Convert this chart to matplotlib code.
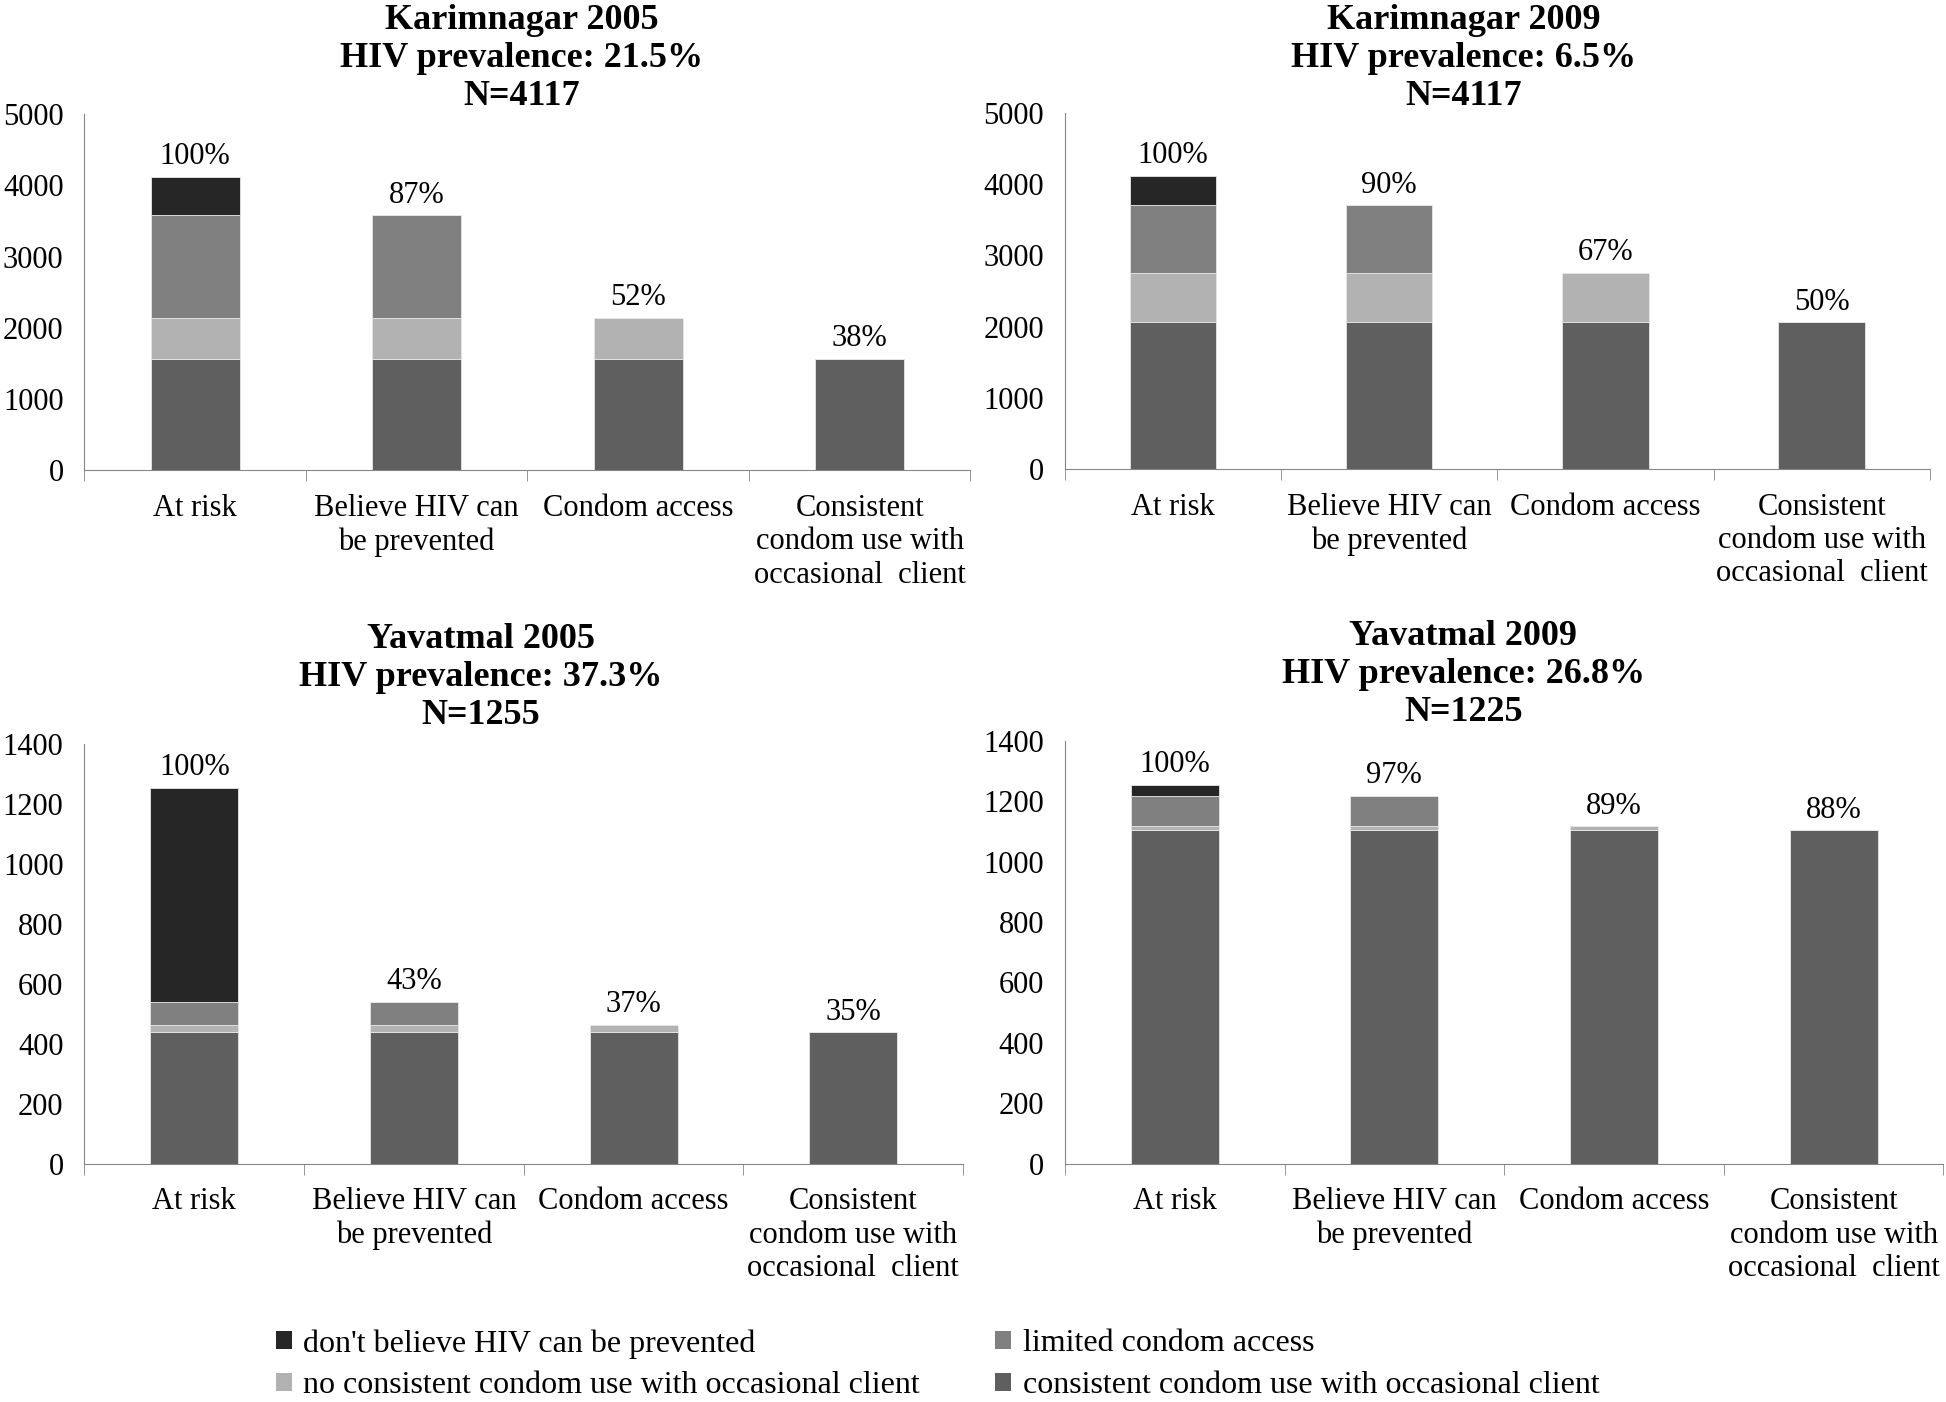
import matplotlib
matplotlib.use('Agg')
import matplotlib.pyplot as plt
from matplotlib.patches import Patch

plt.rcParams['font.family'] = ['Liberation Serif', 'DejaVu Serif']

categories = ['At risk', 'Believe HIV can\nbe prevented', 'Condom access',
              'Consistent\ncondom use with\noccasional  client']

# counts at each stage: at risk, believe, condom access, consistent use
k2005 = [4117, 3582, 2141, 1564]
k2009 = [4117, 3705, 2758, 2058]
y2005 = [1255, 540, 464, 439]
y2009 = [1255, 1217, 1117, 1104]

k2005_pct = ['100%', '87%', '52%', '38%']
k2009_pct = ['100%', '90%', '67%', '50%']
y2005_pct = ['100%', '43%', '37%', '35%']
y2009_pct = ['100%', '97%', '89%', '88%']

titles = ['Karimnagar 2005\nHIV prevalence: 21.5%\nN=4117',
          'Karimnagar 2009\nHIV prevalence: 6.5%\nN=4117',
          'Yavatmal 2005\nHIV prevalence: 37.3%\nN=1255',
          'Yavatmal 2009\nHIV prevalence: 26.8%\nN=1225']

seg_names = ["don't believe HIV can be prevented", 'limited condom access',
             'no consistent condom use with occasional client',
             'consistent condom use with occasional client']
seg_colors = ['#262626', '#808080', '#b2b2b2', '#5f5f5f']

fig = plt.figure(figsize=(19.46, 14.02), dpi=100)

# axes rectangles (left, bottom, width, height) in figure fraction
rects = [(0.0434, 0.6646, 0.4553, 0.2540),
         (0.5472, 0.6655, 0.4445, 0.2540),
         (0.0434, 0.1699, 0.4515, 0.2991),
         (0.5472, 0.1699, 0.4515, 0.3018)]
title_xy = [(0.268, 0.958), (0.752, 0.958), (0.247, 0.517), (0.752, 0.519)]
ymaxes = [5000, 5000, 1400, 1400]
ysteps = [1000, 1000, 200, 200]

panels = [(k2005, k2005_pct), (k2009, k2009_pct), (y2005, y2005_pct), (y2009, y2009_pct)]
axis_col = '#868686'
fs = 22

for i, (counts, pcts) in enumerate(panels):
    ax = fig.add_axes(rects[i])
    x = list(range(4))
    total, believe, access, cons = counts
    # segments per bar
    s_cons = [cons, cons, cons, cons]
    s_nocons = [access - cons, access - cons, access - cons, 0]
    s_limited = [believe - access, believe - access, 0, 0]
    s_dont = [total - believe, 0, 0, 0]
    bottom = [0, 0, 0, 0]
    for seg, col in zip([s_cons, s_nocons, s_limited, s_dont],
                        [seg_colors[3], seg_colors[2], seg_colors[1], seg_colors[0]]):
        ax.bar(x, seg, width=0.4, bottom=bottom, color=col,
               edgecolor='#e6e6e6', linewidth=0.6)
        bottom = [b + s for b, s in zip(bottom, seg)]
    for xi, top, p in zip(x, bottom, pcts):
        ax.annotate(p, (xi, top), xytext=(0, 4), textcoords='offset points',
                    ha='center', va='bottom', fontsize=fs)

    ax.set_xlim(-0.5, 3.5)
    ax.set_ylim(0, ymaxes[i])
    ax.set_yticks(range(0, ymaxes[i] + 1, ysteps[i]))
    ax.set_xticks(x)
    ax.set_xticklabels(categories, fontsize=fs, linespacing=1.2)
    ax.set_xticks([-0.5, 0.5, 1.5, 2.5, 3.5], minor=True)
    ax.tick_params(axis='x', which='major', length=0, pad=17)
    ax.tick_params(axis='x', which='minor', length=8, color=axis_col, direction='out')
    ax.tick_params(axis='y', length=0, pad=15, labelsize=fs)
    for s in ['top', 'right']:
        ax.spines[s].set_visible(False)
    for s in ['left', 'bottom']:
        ax.spines[s].set_color(axis_col)
    fig.text(title_xy[i][0], title_xy[i][1], titles[i], ha='center', va='center',
             fontsize=26, fontweight='bold', linespacing=1.2)

# legend, two columns placed separately
h = [Patch(facecolor=c) for c in seg_colors]
fig.legend([h[0], h[2]], [seg_names[0], seg_names[2]], loc='center left',
           bbox_to_anchor=(0.1416, 0.0265), frameon=False, fontsize=23,
           handlelength=0.5, handleheight=0.5, handletextpad=0.35,
           borderpad=0, borderaxespad=0, labelspacing=0.4)
fig.legend([h[1], h[3]], [seg_names[1], seg_names[3]], loc='center left',
           bbox_to_anchor=(0.5115, 0.0265), frameon=False, fontsize=23,
           handlelength=0.5, handleheight=0.5, handletextpad=0.35,
           borderpad=0, borderaxespad=0, labelspacing=0.4)

fig.savefig('out.png', dpi=100)
